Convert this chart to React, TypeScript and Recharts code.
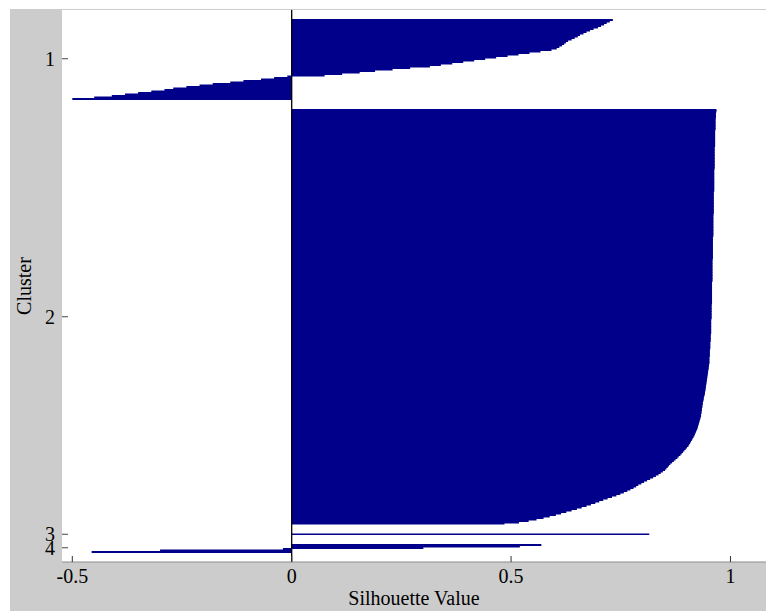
import React from 'react';
import { BarChart, Bar, XAxis, YAxis, ReferenceLine, CartesianGrid } from 'recharts';

// Silhouette values, one per point, sorted within each cluster (top to bottom)
const cluster1 = [
  0.732, 0.725, 0.718, 0.712, 0.705, 0.698, 0.688, 0.680, 0.672, 0.665,
  0.657, 0.652, 0.645, 0.638, 0.630, 0.625, 0.621, 0.616, 0.610, 0.604,
  0.592, 0.567, 0.542, 0.517, 0.492, 0.466, 0.441, 0.416, 0.391, 0.366,
  0.340, 0.315, 0.270, 0.230, 0.190, 0.155, 0.115, 0.075,
  -0.010, -0.040, -0.070, -0.110, -0.140, -0.180, -0.210, -0.240, -0.270, -0.290,
  -0.320, -0.350, -0.380, -0.410, -0.450, -0.500,
];

const cluster2 = [
  0.968, 0.968, 0.967, 0.967, 0.967, 0.967, 0.966, 0.966, 0.966, 0.966,
  0.966, 0.966, 0.966, 0.966, 0.965, 0.965, 0.965, 0.965, 0.965, 0.965,
  0.965, 0.965, 0.965, 0.965, 0.965, 0.964, 0.964, 0.964, 0.964, 0.964,
  0.964, 0.964, 0.964, 0.964, 0.964, 0.964, 0.964, 0.964, 0.964, 0.964,
  0.963, 0.963, 0.963, 0.963, 0.963, 0.963, 0.963, 0.963, 0.963, 0.963,
  0.963, 0.963, 0.963, 0.963, 0.963, 0.962, 0.962, 0.962, 0.962, 0.962,
  0.962, 0.962, 0.962, 0.962, 0.962, 0.962, 0.962, 0.962, 0.962, 0.962,
  0.961, 0.961, 0.961, 0.961, 0.961, 0.961, 0.961, 0.961, 0.961, 0.961,
  0.961, 0.961, 0.961, 0.961, 0.961, 0.960, 0.960, 0.960, 0.960, 0.960,
  0.960, 0.960, 0.960, 0.960, 0.960, 0.960, 0.960, 0.960, 0.960, 0.960,
  0.959, 0.959, 0.959, 0.959, 0.959, 0.959, 0.959, 0.959, 0.959, 0.959,
  0.959, 0.959, 0.959, 0.959, 0.959, 0.958, 0.958, 0.958, 0.958, 0.958,
  0.958, 0.958, 0.958, 0.958, 0.958, 0.958, 0.958, 0.958, 0.958, 0.958,
  0.957, 0.957, 0.957, 0.957, 0.957, 0.957, 0.957, 0.957, 0.957, 0.957,
  0.956, 0.956, 0.956, 0.956, 0.956, 0.956, 0.956, 0.956, 0.956, 0.956,
  0.955, 0.955, 0.955, 0.955, 0.955, 0.954, 0.954, 0.954, 0.954, 0.954,
  0.953, 0.953, 0.953, 0.953, 0.953, 0.952, 0.952, 0.952, 0.952, 0.952,
  0.951, 0.951, 0.950, 0.950, 0.949, 0.949, 0.948, 0.948, 0.947, 0.947,
  0.946, 0.946, 0.945, 0.945, 0.944, 0.944, 0.943, 0.943, 0.942, 0.942,
  0.941, 0.940, 0.939, 0.939, 0.938, 0.937, 0.937, 0.936, 0.936, 0.935,
  0.935, 0.934, 0.934, 0.933, 0.933, 0.932, 0.931, 0.930, 0.929, 0.928,
  0.927, 0.926, 0.925, 0.924, 0.922, 0.921, 0.919, 0.918, 0.916, 0.914,
  0.912, 0.910, 0.908, 0.906, 0.904, 0.901, 0.898, 0.895, 0.892, 0.889,
  0.886, 0.882, 0.879, 0.875, 0.871, 0.867, 0.863, 0.860, 0.857, 0.854,
  0.851, 0.846, 0.841, 0.836, 0.830, 0.824, 0.817, 0.810, 0.803, 0.797,
  0.790, 0.785, 0.779, 0.772, 0.765, 0.757, 0.749, 0.740, 0.730, 0.720,
  0.710, 0.701, 0.692, 0.682, 0.672, 0.661, 0.650, 0.638, 0.626, 0.614,
  0.602, 0.588, 0.574, 0.558, 0.540, 0.518, 0.485,
];

const cluster3 = [0.815];

const cluster4 = [0.569, 0.52, 0.30, -0.02, -0.30, -0.456];

const clusterLabels = ['1', '2', '3', '4'];
const xTicks = [-0.5, 0, 0.5, 1];
const xTickLabels = ['-0.5', '0', '0.5', '1'];
const gapRows = 6;

// Build the rows table (gap rows carry no value)
const clusters = [cluster1, cluster2, cluster3, cluster4];
const rows: { row: number; s: number | null }[] = [];
const tickRows: number[] = [];
const labelByRow: Record<number, string> = {};
let rc = 0;
const addGap = () => {
  for (let k = 0; k < gapRows; k++) rows.push({ row: rc++, s: null });
};
addGap();
clusters.forEach((c, ci) => {
  const start = rc;
  c.forEach((v) => rows.push({ row: rc++, s: v }));
  const mid = start + Math.floor((c.length - 1) / 2);
  tickRows.push(mid);
  labelByRow[mid] = clusterLabels[ci];
  addGap();
});

const FONT = '"Liberation Serif", "Times New Roman", serif';
const BAR = '#00008b';

const hasValue = (r: number) => r >= 0 && r < rows.length && rows[r].s != null;

// Each bar is drawn one band tall; it bleeds slightly into a neighbouring
// bar of the same cluster so that touching bars show no anti-aliasing seams.
const RowBar = (props: any) => {
  const { x, y, width, height, payload } = props;
  if (width == null || !isFinite(width) || width === 0 || !isFinite(y)) return null;
  const band = Math.max(height || 0, 1.49);
  const r = payload ? payload.row : -1;
  const up = hasValue(r - 1) ? 0.5 : 0;
  const down = hasValue(r + 1) ? 0.5 : 0;
  const y0 = y - up;
  const h = band + up + down;
  return <path d={`M${x},${y0}h${width}v${h}h${-width}Z`} fill={BAR} />;
};

const YTick = (props: any) => {
  const { x, y, payload } = props;
  return (
    <g>
      <line x1={x} y1={y} x2={x + 6} y2={y} stroke="#444" strokeWidth={1} />
      <text x={x - 7} y={y} dy={7} textAnchor="end" fontFamily={FONT} fontSize={20} fill="#000">
        {labelByRow[payload.value]}
      </text>
    </g>
  );
};

const XBottomTick = (props: any) => {
  const { x, y, payload, index } = props;
  return (
    <g>
      <line x1={x} y1={y} x2={x} y2={y - 6} stroke="#333" strokeWidth={1} />
      <text x={x} y={y + 21} textAnchor="middle" fontFamily={FONT} fontSize={20} fill="#000">
        {xTickLabels[index] ?? String(payload.value)}
      </text>
    </g>
  );
};

const XTopTick = (props: any) => {
  const { x, y } = props;
  return <line x1={x} y1={y} x2={x} y2={y + 6} stroke="#333" strokeWidth={1} />;
};

const XLabel = (props: any) => {
  const vb = props.viewBox || {};
  return (
    <text x={vb.x + vb.width / 2} y={605} textAnchor="middle" fontFamily={FONT} fontSize={20} fill="#000">
      Silhouette Value
    </text>
  );
};

const YLabel = (props: any) => {
  const vb = props.viewBox || {};
  const cy = vb.y + vb.height / 2;
  return (
    <text
      x={31}
      y={cy}
      transform={`rotate(-90, 31, ${cy})`}
      textAnchor="middle"
      fontFamily={FONT}
      fontSize={20}
      fill="#000"
    >
      Cluster
    </text>
  );
};

export default function App() {
  return (
    <div style={{ position: 'absolute', left: 0, top: 0, width: 766, height: 611, background: '#ffffff', overflow: 'hidden' }}>
      <div style={{ position: 'absolute', left: 10, top: 9, width: 756, height: 602, background: '#cccccc' }} />
      <div style={{ position: 'absolute', left: 0, top: 0 }}>
        <BarChart
          width={766}
          height={611}
          data={rows}
          layout="vertical"
          barCategoryGap={0}
          barGap={0}
          margin={{ top: 10, right: 0, bottom: 19, left: 10 }}
        >
          <CartesianGrid horizontal={false} vertical={false} fill="#ffffff" />
          <XAxis
            xAxisId="bottom"
            type="number"
            orientation="bottom"
            domain={[-0.5235, 1.081]}
            allowDataOverflow
            ticks={xTicks}
            interval={0}
            height={30}
            tickSize={0}
            tickMargin={0}
            tickLine={false}
            axisLine={{ stroke: '#8c8c8c' }}
            tick={<XBottomTick />}
            label={<XLabel />}
          />
          <XAxis
            xAxisId="top"
            type="number"
            orientation="top"
            domain={[-0.5235, 1.081]}
            allowDataOverflow
            ticks={xTicks}
            interval={0}
            height={0}
            tickSize={0}
            tickMargin={0}
            tickLine={false}
            axisLine={{ stroke: '#b0b0b0' }}
            tick={<XTopTick />}
          />
          <YAxis
            type="category"
            dataKey="row"
            width={52}
            ticks={tickRows}
            interval={0}
            tickSize={0}
            tickMargin={0}
            tickLine={false}
            axisLine={false}
            tick={<YTick />}
            label={<YLabel />}
          />
          <Bar
            xAxisId="bottom"
            dataKey="s"
            fill={BAR}
            barSize={1.49}
            isAnimationActive={false}
            shape={<RowBar />}
          />
          <ReferenceLine xAxisId="bottom" x={0} stroke="#000000" strokeWidth={1.3} />
        </BarChart>
      </div>
    </div>
  );
}
